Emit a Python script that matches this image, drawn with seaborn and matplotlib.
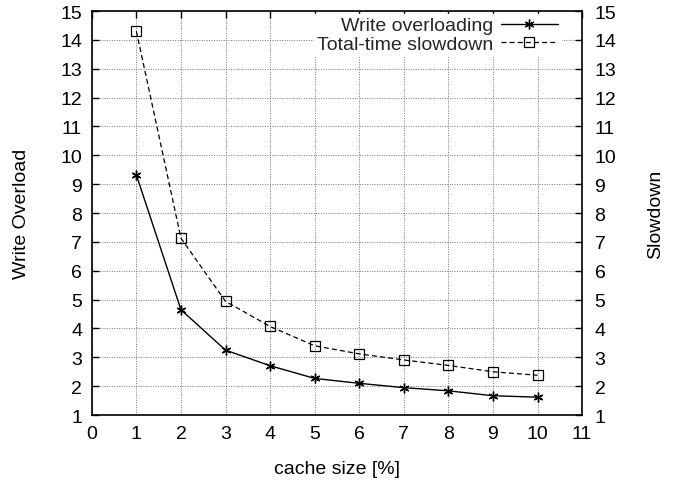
import matplotlib
matplotlib.use("Agg")
import matplotlib.pyplot as plt
import seaborn as sns
import pandas as pd

cache_size = [1, 2, 3, 4, 5, 6, 7, 8, 9, 10]
write_overloading = [9.32, 4.65, 3.25, 2.71, 2.27, 2.10, 1.95, 1.84, 1.67, 1.62]
total_slowdown = [14.3, 7.13, 4.94, 4.07, 3.40, 3.12, 2.91, 2.72, 2.50, 2.38]
series_names = ["Write overloading", "Total-time slowdown"]
x_ticks = list(range(0, 12))
y_ticks = list(range(1, 16))

sns.set_theme(style="white")
plt.rcParams['font.family'] = ['Liberation Sans', 'DejaVu Sans']
FS = 14

df = pd.DataFrame({
    "cache": cache_size * 2,
    "value": write_overloading + total_slowdown,
    "series": [series_names[0]] * len(cache_size) + [series_names[1]] * len(cache_size),
})

fig = plt.figure(figsize=(6.8, 4.81), dpi=100)
ax = fig.add_axes([0.135, 0.135, 0.721, 0.84])

sns.lineplot(data=df[df.series == series_names[0]], x="cache", y="value", ax=ax,
             color="black", linewidth=1.0, marker=(6, 2, 0), markersize=7,
             markeredgewidth=1.0, markeredgecolor="black", label=series_names[0])
sns.lineplot(data=df[df.series == series_names[1]], x="cache", y="value", ax=ax,
             color="black", linewidth=0.9, linestyle=(0, (4, 2.5)), marker="s",
             markersize=6.5, markerfacecolor="none", markeredgecolor="black",
             markeredgewidth=0.9, label=series_names[1])

ax.set_xlim(0, 11)
ax.set_ylim(1, 15)
ax.set_xticks(x_ticks)
ax.set_yticks(y_ticks)
ax.grid(True, linestyle=(0, (1, 1.5)), color="#777777", linewidth=0.7)
for s in ax.spines.values():
    s.set_color("black")
    s.set_linewidth(1.2)
ax.tick_params(axis="both", direction="in", length=5, width=1, colors="black",
               labelsize=FS, top=True, right=False, pad=7)
ax.set_xlabel("cache size [%]", fontsize=FS, labelpad=13, color="black")
ax.set_ylabel("Write Overload", fontsize=FS, labelpad=22, color="black")

ax2 = ax.twinx()
ax2.set_ylim(1, 15)
ax2.set_yticks(y_ticks)
ax2.tick_params(axis="y", direction="in", length=5, width=1, colors="black",
                labelsize=FS, pad=9)
ax2.set_ylabel("Slowdown", fontsize=FS, labelpad=22, color="black")
for s in ax2.spines.values():
    s.set_visible(False)

leg = ax.legend(loc="upper right", bbox_to_anchor=(0.962, 1.0), frameon=True,
                fontsize=FS, handlelength=2.9, markerfirst=False,
                borderaxespad=0.15, handletextpad=0.4,
                labelspacing=0.05, borderpad=0.15)
leg.get_frame().set_facecolor("white")
leg.get_frame().set_edgecolor("white")
leg.get_frame().set_alpha(1.0)
leg.get_frame().set_boxstyle("square", pad=0)

fig.savefig("out.png", dpi=100)
